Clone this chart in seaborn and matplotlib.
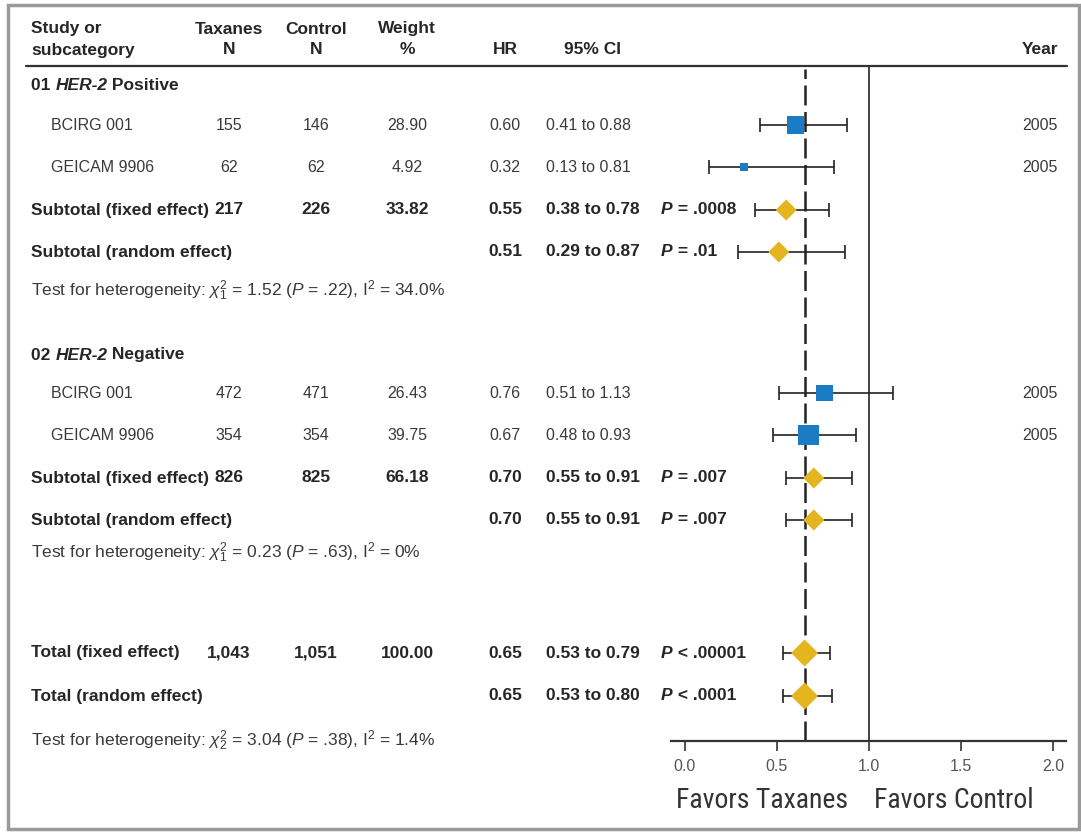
import matplotlib
matplotlib.use("Agg")
import matplotlib.pyplot as plt
from matplotlib import font_manager
import seaborn as sns
import pandas as pd
from matplotlib.patches import Rectangle

# ---- values ----
studies = ["BCIRG 001", "GEICAM 9906", "BCIRG 001", "GEICAM 9906"]
taxanes_n = ["155", "62", "472", "354"]
control_n = ["146", "62", "471", "354"]
weight_pct = [28.90, 4.92, 26.43, 39.75]
study_hr = [0.60, 0.32, 0.76, 0.67]
study_lo = [0.41, 0.13, 0.51, 0.48]
study_hi = [0.88, 0.81, 1.13, 0.93]
study_year = [2005, 2005, 2005, 2005]

groups = [("01 ", "HER-2", " Positive"), ("02 ", "HER-2", " Negative")]

pooled_labels = ["Subtotal (fixed effect)", "Subtotal (random effect)",
                 "Subtotal (fixed effect)", "Subtotal (random effect)",
                 "Total (fixed effect)", "Total (random effect)"]
pooled_tax_n = ["217", "", "826", "", "1,043", ""]
pooled_ctl_n = ["226", "", "825", "", "1,051", ""]
pooled_weight = ["33.82", "", "66.18", "", "100.00", ""]
pooled_hr = [0.55, 0.51, 0.70, 0.70, 0.65, 0.65]
pooled_lo = [0.38, 0.29, 0.55, 0.55, 0.53, 0.53]
pooled_hi = [0.78, 0.87, 0.91, 0.91, 0.79, 0.80]
pooled_p_sign = ["=", "=", "=", "=", "<", "<"]
pooled_p = [".0008", ".01", ".007", ".007", ".00001", ".0001"]

het_chi = ["1.52", "0.23", "3.04"]
het_df = ["1", "1", "2"]
het_p = [".22", ".63", ".38"]
het_i2 = ["34.0%", "0%", "1.4%"]

overall_hr = 0.65
hr_ticks = [0.0, 0.5, 1.0, 1.5, 2.0]

# ---- layout (pixels, top = 0) ----
W, H = 1081, 832
group_y = [86, 355]
study_y = [125, 167, 393, 435]
pooled_y = [210, 252, 478, 520, 653, 696]
het_y = [291, 553, 741]
header_line_y = 66
axis_y = 741
axis_left, axis_right = 671, 1066
x0_px, x2_px = 685, 1053          # pixel positions of HR 0.0 and 2.0

col_study, col_indent = 31, 51
col_tax, col_ctl, col_wt, col_hr = 229, 316, 407, 505
col_ci, col_p, col_year = 546, 661, 1058

txt = "#3a3a3a"
dark = "#262626"
blue = "#1b7bc4"
gold = "#e5b51f"
fs, fsb, fsh = 11.5, 12.5, 12.5

sns.set_theme(style="white")
plt.rcParams["font.family"] = ["Liberation Sans", "DejaVu Sans"]
plt.rcParams["mathtext.fontset"] = "custom"
plt.rcParams["mathtext.rm"] = "Liberation Sans"
plt.rcParams["mathtext.it"] = "Liberation Sans:italic"
plt.rcParams["mathtext.bf"] = "Liberation Sans:bold"

# a narrow face for the "Favors" captions, if one is installed
installed = {f.name for f in font_manager.fontManager.ttflist}
narrow = [n for n in ["Liberation Sans Narrow", "Roboto Condensed", "Open Sans Condensed",
                      "DejaVu Sans Condensed"] if n in installed]
fav_stretch = "normal"
if not narrow:
    if any(f.name == "DejaVu Sans" and str(f.stretch) in ("condensed", "semi-condensed")
           for f in font_manager.fontManager.ttflist):
        narrow, fav_stretch = ["DejaVu Sans"], "condensed"
fav_size = 20 if narrow else 17
fav_family = narrow + ["Liberation Sans"] if narrow else ["Liberation Sans"]

fig = plt.figure(figsize=(W / 100, H / 100), dpi=100)
fig.patch.set_facecolor("white")

# text layer in pixel coordinates
tx = fig.add_axes([0, 0, 1, 1])
tx.set_xlim(0, W)
tx.set_ylim(H, 0)
tx.axis("off")


def rich(x, y, parts, size, color):
    """parts: list of (text, weight, style) laid out left to right"""
    s, w, st = parts[0]
    t = tx.text(x, y, s, fontsize=size, fontweight=w, style=st, color=color,
                ha="left", va="center")
    for s, w, st in parts[1:]:
        t = tx.annotate(s, xy=(1, 0), xycoords=t, ha="left", va="bottom",
                        fontsize=size, fontweight=w, style=st, color=color)


# header
hk = dict(fontsize=fsb, fontweight="bold", color=dark, va="center")
tx.text(col_study, 29, "Study or", **hk)
tx.text(col_study, 50, "subcategory", **hk)
for cx, l1, l2 in [(col_tax, "Taxanes", "N"), (col_ctl, "Control", "N"), (col_wt, "Weight", "%")]:
    tx.text(cx, 29, l1, ha="center", **hk)
    tx.text(cx, 50, l2, ha="center", **hk)
tx.text(col_hr, 50, "HR", ha="center", **hk)
tx.text(col_ci + 18, 50, "95% CI", **hk)
tx.text(col_year, 50, "Year", ha="right", **hk)
tx.plot([26, 1067], [header_line_y, header_line_y], color="#333333", lw=1.6)

# group headers
for gy, (a, b, c) in zip(group_y, groups):
    rich(col_study, gy, [(a, "bold", "normal"), (b, "bold", "italic"), (c, "bold", "normal")], fsb, dark)

# study rows
for i, name in enumerate(studies):
    y = study_y[i]
    rk = dict(fontsize=fs, color=txt, va="center")
    tx.text(col_indent, y, name, **rk)
    tx.text(col_tax, y, taxanes_n[i], ha="center", **rk)
    tx.text(col_ctl, y, control_n[i], ha="center", **rk)
    tx.text(col_wt, y, f"{weight_pct[i]:.2f}", ha="center", **rk)
    tx.text(col_hr, y, f"{study_hr[i]:.2f}", ha="center", **rk)
    tx.text(col_ci, y, f"{study_lo[i]:.2f} to {study_hi[i]:.2f}", **rk)
    tx.text(col_year, y, str(study_year[i]), ha="right", **rk)

# pooled rows
for i, lab in enumerate(pooled_labels):
    y = pooled_y[i]
    kw = dict(fontsize=fsb, fontweight="bold", color=dark, va="center")
    tx.text(col_study, y, lab, **kw)
    tx.text(col_tax, y, pooled_tax_n[i], ha="center", **kw)
    tx.text(col_ctl, y, pooled_ctl_n[i], ha="center", **kw)
    tx.text(col_wt, y, pooled_weight[i], ha="center", **kw)
    tx.text(col_hr, y, f"{pooled_hr[i]:.2f}", ha="center", **kw)
    tx.text(col_ci, y, f"{pooled_lo[i]:.2f} to {pooled_hi[i]:.2f}", **kw)
    rich(col_p, y, [("P", "bold", "italic"), (f" {pooled_p_sign[i]} {pooled_p[i]}", "bold", "normal")], fsb, dark)

# heterogeneity lines
for i, y in enumerate(het_y):
    s = (r"Test for heterogeneity: $\chi^{2}_{%s}$ = %s ($\it{P}$ = %s), I$^{2}$ = %s"
         % (het_df[i], het_chi[i], het_p[i], het_i2[i]))
    tx.text(col_study, y, s, fontsize=fsh, color=txt, va="center")

# ---- forest panel ----
lo_hr = -(x0_px - axis_left) / (x2_px - x0_px) * 2.0
hi_hr = 2.0 + (axis_right - x2_px) / (x2_px - x0_px) * 2.0
ax = fig.add_axes([axis_left / W, (H - axis_y) / H,
                   (axis_right - axis_left) / W, (axis_y - header_line_y) / H])
ax.set_facecolor("none")
ax.set_xlim(lo_hr, hi_hr)
ax.set_ylim(axis_y, header_line_y)

ax.axvline(1.0, color="#333333", lw=1.3, zorder=1)
ax.axvline(overall_hr, ymax=0.995, color="#222222", lw=1.8, dashes=(8, 2.6), zorder=1)

studies_df = pd.DataFrame({"hr": study_hr, "lo": study_lo, "hi": study_hi,
                           "w": weight_pct, "y": study_y})
pooled_df = pd.DataFrame({"hr": pooled_hr, "lo": pooled_lo, "hi": pooled_hi, "y": pooled_y})

for df in (studies_df, pooled_df):
    ax.errorbar(df["hr"], df["y"], xerr=[df["hr"] - df["lo"], df["hi"] - df["hr"]],
                fmt="none", ecolor="#222222", elinewidth=1.2, capsize=5, capthick=1.2, zorder=2)

sns.scatterplot(data=studies_df, x="hr", y="y", marker="s", s=studies_df["w"] * 5.6,
                color=blue, edgecolor=blue, linewidth=0, ax=ax, zorder=3, legend=False)
diamond_s = [115, 115, 115, 115, 190, 190]
sns.scatterplot(data=pooled_df, x="hr", y="y", marker="D", s=diamond_s,
                color=gold, edgecolor=gold, linewidth=0, ax=ax, zorder=3, legend=False)

for side in ["top", "left", "right"]:
    ax.spines[side].set_visible(False)
ax.spines["bottom"].set_color("#333333")
ax.spines["bottom"].set_linewidth(1.6)
ax.set_yticks([])
ax.set_xticks(hr_ticks)
ax.set_xticklabels([f"{t:.1f}" for t in hr_ticks])
ax.tick_params(axis="x", direction="out", length=7, width=1.2, color="#333333",
               labelsize=11.5, labelcolor="#555555", pad=6, bottom=True)
ax.set_xlabel("")
ax.set_ylabel("")

fav = dict(fontsize=fav_size, color="#333333", ha="center", va="center",
           family=fav_family, stretch=fav_stretch)
tx.text(762, 801, "Favors Taxanes", **fav)
tx.text(954, 801, "Favors Control", **fav)

# outer frame
fig.patches.append(Rectangle((8 / W, 3 / H), 1071 / W, 824 / H, transform=fig.transFigure,
                             fill=False, edgecolor="#9a9a9a", lw=2.5))

fig.savefig("out.png", dpi=100, facecolor="white")
